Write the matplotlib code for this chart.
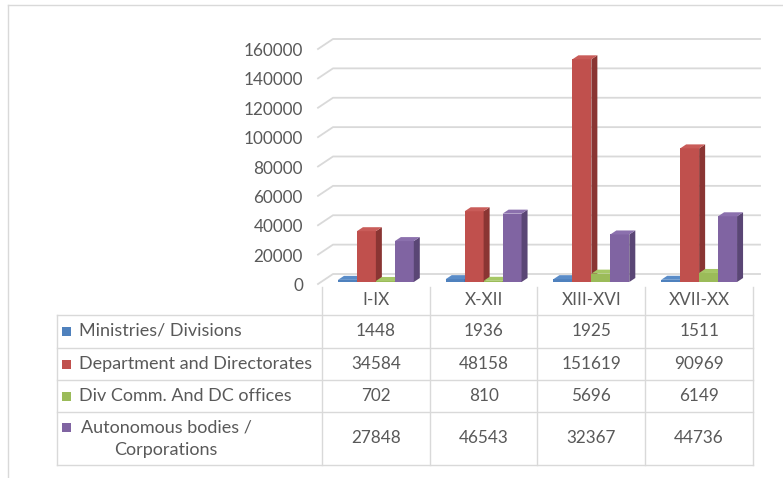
import matplotlib
matplotlib.use("Agg")
import matplotlib.pyplot as plt
import matplotlib.transforms as mtransforms
from matplotlib.patches import Polygon, Rectangle
from matplotlib.lines import Line2D
import numpy as np

categories = ["I-IX", "X-XII", "XIII-XVI", "XVII-XX"]
series_names = ["Ministries/ Divisions", "Department and Directorates",
                "Div Comm. And DC offices", "Autonomous bodies /\nCorporations"]
ministries = [1448, 1936, 1925, 1511]
departments = [34584, 48158, 151619, 90969]
div_comm = [702, 810, 5696, 6149]
autonomous = [27848, 46543, 32367, 44736]
y_ticks = [0, 20000, 40000, 60000, 80000, 100000, 120000, 140000, 160000]

series_values = [ministries, departments, div_comm, autonomous]
front_colors = ["#4F81BD", "#C0504D", "#9BBB59", "#8064A2"]
side_colors = ["#34598A", "#8A3533", "#6E8A3C", "#5A4675"]
top_colors = ["#5A8CC8", "#C95C59", "#A6C766", "#8B70AD"]

plt.rcParams['font.family'] = ['Lato', 'DejaVu Sans']
TXT = "#595959"
GRID = "#D9D9D9"
FS = 12.3
FS_LAB = 13

W, H = 783, 478
fig = plt.figure(figsize=(W / 100, H / 100), dpi=100)
fig.patch.set_facecolor("white")

# axes maps bar front faces: x columns 322..753 px, y 0 -> 282 px, 160000 -> 47 px
ax = fig.add_axes([322 / W, (H - 282) / H, (753 - 322) / W, (282 - 47) / H])
ax.set_xlim(0, len(categories))
ax.set_ylim(0, 160000)
ax.axis("off")

def D(x, v, dx=0.0, dy=0.0):
    """display coords of data point, shifted dx right and dy up (pixels)"""
    p = ax.transData.transform((x, v))
    return (p[0] + dx, p[1] + dy)

ident = mtransforms.IdentityTransform()
px_per_col = (753 - 322) / len(categories)

def xdata(px):
    return (px - 322) / px_per_col

# frame of chart area
fig.add_artist(Line2D([8 / W, 8 / W], [1 - 5 / H, 0], transform=fig.transFigure, color=GRID, lw=1.0))
fig.add_artist(Line2D([8 / W, 1], [1 - 5 / H, 1 - 5 / H], transform=fig.transFigure, color=GRID, lw=1.0))

# gridlines: back wall + slanted side wall
BACK_DY = 8
for v in y_ticks:
    a = D(xdata(318), v, 0, -2)
    b = D(xdata(333), v, 0, BACK_DY)
    c = D(xdata(760), v, 0, BACK_DY)
    ax.add_line(Line2D([a[0], b[0], c[0]], [a[1], b[1], c[1]], transform=ident,
                       color=GRID, lw=1.3, clip_on=False, zorder=1))
    lp = D(0, v, 0, -4)
    fx, fy = fig.transFigure.inverted().transform(lp)
    fig.text(303 / W, fy, f"{v}", ha="right", va="center", color=TXT, fontsize=FS)

# 3D bars
n = len(series_values)
bw = 0.176
ddx, ddy = 6, 4
z = 3
for i in range(len(categories)):
    for s in range(n):
        v = series_values[s][i]
        x0 = i + 0.5 + (s - n / 2) * bw
        x1 = x0 + bw
        ax.bar(x0, v, width=bw, align="edge", color=front_colors[s], zorder=z, linewidth=0)
        p1 = D(x1, 0); p2 = D(x1, v)
        side = [p1, p2, (p2[0] + ddx, p2[1] + ddy), (p1[0] + ddx, p1[1] + ddy)]
        ax.add_patch(Polygon(side, closed=True, transform=ident, facecolor=side_colors[s],
                             edgecolor="none", clip_on=False, zorder=z))
        q1 = D(x0, v); q2 = D(x1, v)
        top = [q1, q2, (q2[0] + ddx, q2[1] + ddy), (q1[0] + ddx, q1[1] + ddy)]
        ax.add_patch(Polygon(top, closed=True, transform=ident, facecolor=top_colors[s],
                             edgecolor="none", clip_on=False, zorder=z))
        z += 1

# data table
col_edges = [322, 430, 537, 645, 753]
row_lines = [315, 348, 380, 412, 465]
for xe_ in col_edges:
    fig.add_artist(Line2D([xe_ / W, xe_ / W], [1 - 287 / H, 1 - 465 / H],
                          transform=fig.transFigure, color=GRID, lw=1.0))
fig.add_artist(Line2D([57 / W, 57 / W], [1 - 315 / H, 1 - 465 / H],
                      transform=fig.transFigure, color=GRID, lw=1.0))
for yl in row_lines:
    fig.add_artist(Line2D([57 / W, 753 / W], [1 - yl / H, 1 - yl / H],
                          transform=fig.transFigure, color=GRID, lw=1.0))

blend = mtransforms.blended_transform_factory(ax.transData, fig.transFigure)
for i, cat in enumerate(categories):
    fig.text(i + 0.5, 1 - 300 / H, cat, transform=blend, ha="center", va="center",
             color=TXT, fontsize=FS)

row_centers = [331, 364, 396, 438]
for s in range(n):
    yc = row_centers[s]
    for i in range(len(categories)):
        fig.text(i + 0.5, 1 - yc / H, f"{series_values[s][i]}", transform=blend,
                 ha="center", va="center", color=TXT, fontsize=FS)
    name = series_names[s]
    if "\n" in name:
        fig.text(166 / W, 1 - (yc + 1) / H, name, ha="center", va="center", color=TXT,
                 fontsize=FS_LAB, linespacing=1.5)
        sq_y = 427
    else:
        fig.text(79 / W, 1 - yc / H, name, ha="left", va="center", color=TXT, fontsize=FS_LAB)
        sq_y = yc
    fig.add_artist(Rectangle((62 / W, 1 - (sq_y + 4.5) / H), 9 / W, 9 / H,
                             transform=fig.transFigure, facecolor=front_colors[s],
                             edgecolor="none"))

fig.savefig("out.png", dpi=100)
